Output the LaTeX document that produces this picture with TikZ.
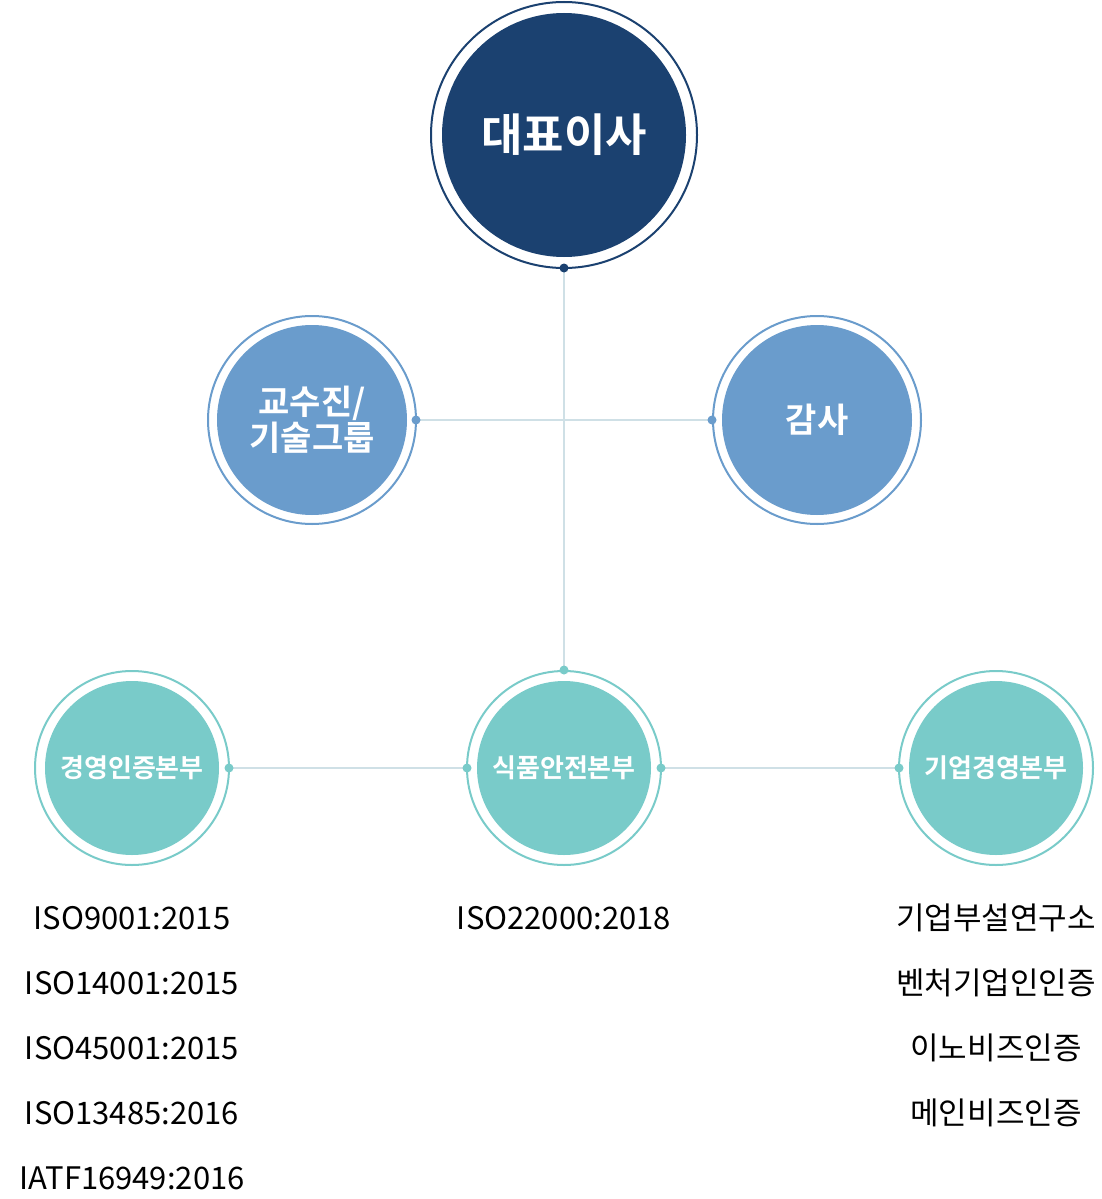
\documentclass[tikz,border=0pt]{standalone}
\usepackage{fontspec}
\setmainfont{Noto Sans CJK KR}
\newfontfamily\boldkr{Noto Sans CJK KR Bold}
\definecolor{ceo}{HTML}{1B4170}
\definecolor{mid}{HTML}{6A9CCC}
\definecolor{low}{HTML}{79CBC9}
\definecolor{wire}{HTML}{CFE0E6}
\tikzset{
  ring/.style={circle, draw=#1, line width=2pt, fill=white, inner sep=0pt},
  core/.style={circle, fill=#1, inner sep=0pt, text=white, align=center},
  dot/.style={circle, fill=#1, inner sep=0pt, minimum size=9pt},
  cert/.style={font=\fontsize{31}{31}\selectfont, text=black}
}
\begin{document}
\begin{tikzpicture}[x=1pt,y=-1pt]
\useasboundingbox (0,0) rectangle (1102,1199);
% wires
\coordinate (ceob) at (564,268);
\coordinate (fsdt) at (564,670);
\draw[wire, line width=1.2pt] (ceob) -- (fsdt);
\draw[wire, line width=1.2pt] (416,420) coordinate (profr) -- (712,420) coordinate (auditl);
\draw[wire, line width=1.2pt] (229,768) coordinate (mgmtr) -- (467,768) coordinate (fsl);
\draw[wire, line width=1.2pt] (661,768) coordinate (fsr) -- (899,768) coordinate (corpl);
% top
\node[ring=ceo, minimum size=266pt] (ceoR) at (564,135) {};
\node[core=ceo, minimum size=244pt, font=\boldkr\fontsize{45}{45}\selectfont] (ceo) at (564,135) {대표이사};
% middle
\node[ring=mid, minimum size=208pt] at (312,420) {};
\node[core=mid, minimum size=190pt, font=\boldkr\fontsize{34}{36}\selectfont] (prof) at (312,420) {교수진/\\기술그룹};
\node[ring=mid, minimum size=208pt] at (817,420) {};
\node[core=mid, minimum size=190pt, font=\boldkr\fontsize{34}{36}\selectfont] (audit) at (817,420) {감사};
% bottom
\foreach \x/\name/\txt in {132/mgmt/경영인증본부, 564/fs/식품안전본부, 996/corp/기업경영본부}{
  \node[ring=low, minimum size=194pt] at (\x,768) {};
  \node[core=low, minimum size=174pt, font=\boldkr\fontsize{26}{26}\selectfont] (\name) at (\x,768) {\txt};
}
% dots
\node[dot=ceo] at (ceob) {};
\node[dot=mid] at (profr) {};
\node[dot=mid] at (auditl) {};
\foreach \p in {fsdt, mgmtr, fsl, fsr, corpl}{\node[dot=low] at (\p) {};}
% certificates
\foreach \t [count=\i] in {ISO9001:2015, ISO14001:2015, ISO45001:2015, ISO13485:2016, IATF16949:2016}{
  \node[cert] (m\i) at (132,853+65*\i) {\t};
}
\node[cert] (f1) at (564,918) {ISO22000:2018};
\foreach \t [count=\i] in {기업부설연구소, 벤처기업인인증, 이노비즈인증, 메인비즈인증}{
  \node[cert] (c\i) at (996,853+65*\i) {\t};
}
\end{tikzpicture}
\end{document}
